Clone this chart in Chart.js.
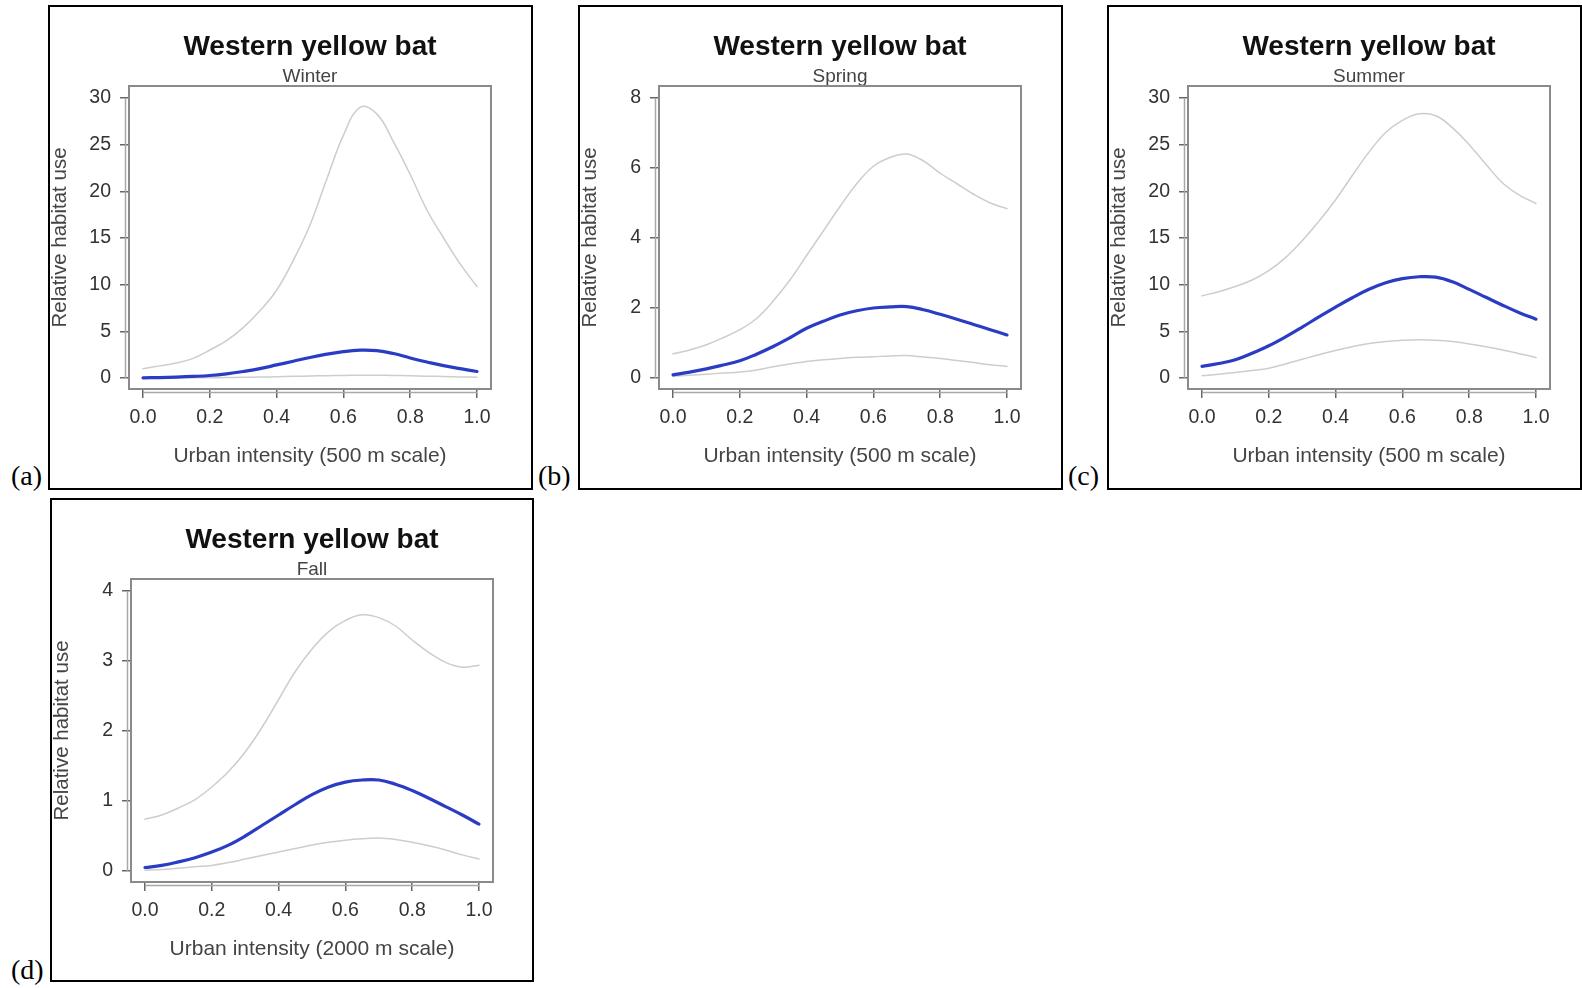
<!DOCTYPE html>
<html>
<head>
<meta charset="utf-8">
<title>Western yellow bat - relative habitat use</title>
<script src="https://cdn.jsdelivr.net/npm/chart.js@4.4.1/dist/chart.umd.min.js"></script>
<style>
  html, body { margin: 0; padding: 0; background: #fff; overflow: hidden; }
  body { width: 1582px; height: 988px; position: relative; }
  .frame { position: absolute; border: 2px solid #000; box-sizing: border-box; pointer-events: none; }
  canvas { position: absolute; }
  .tag { position: absolute; font-family: 'Liberation Serif', 'Times New Roman', serif; font-size: 28px; line-height: 28px; color: #000; }
</style>
</head>
<body>

<canvas id="chart-winter" width="483" height="482" style="left:49px;top:6px"></canvas>
<canvas id="chart-spring" width="483" height="482" style="left:579px;top:6px"></canvas>
<canvas id="chart-summer" width="483" height="482" style="left:1108px;top:6px"></canvas>
<canvas id="chart-fall" width="483" height="482" style="left:51px;top:499px"></canvas>

<div class="frame" style="left:48px;top:5px;width:485px;height:485px"></div>
<div class="frame" style="left:578px;top:5px;width:485px;height:485px"></div>
<div class="frame" style="left:1107px;top:5px;width:475px;height:485px"></div>
<div class="frame" style="left:50px;top:498px;width:484px;height:484px"></div>

<div class="tag" style="left:11px;top:462px">(a)</div>
<div class="tag" style="left:538px;top:462px">(b)</div>
<div class="tag" style="left:1068px;top:462px">(c)</div>
<div class="tag" style="left:11px;top:956px">(d)</div>

<script>
// x values shared by every curve
const urbanIntensity = [0, 0.05, 0.1, 0.15, 0.2, 0.25, 0.3, 0.35, 0.4, 0.45, 0.5,
                        0.55, 0.6, 0.65, 0.7, 0.75, 0.8, 0.85, 0.9, 0.95, 1.0];

// Winter (a)
const winterFit   = [0.02, 0.05, 0.1, 0.17, 0.27, 0.45, 0.7, 1.0, 1.4, 1.8, 2.2, 2.55, 2.83, 2.98, 2.93, 2.62, 2.15, 1.72, 1.32, 1.0, 0.7];
const winterUpper = [1.0, 1.3, 1.6, 2.1, 3.0, 4.0, 5.4, 7.2, 9.4, 12.6, 16.4, 21.3, 26.0, 29.0, 28.3, 25.3, 21.8, 18.0, 15.0, 12.2, 9.8];
const winterLower = [0.0, 0.0, 0.01, 0.02, 0.03, 0.05, 0.08, 0.1, 0.14, 0.18, 0.22, 0.25, 0.28, 0.3, 0.3, 0.28, 0.24, 0.2, 0.16, 0.12, 0.08];

// Spring (b)
const springFit   = [0.09, 0.17, 0.26, 0.37, 0.49, 0.68, 0.9, 1.15, 1.42, 1.62, 1.8, 1.92, 2.0, 2.03, 2.04, 1.95, 1.82, 1.68, 1.53, 1.38, 1.23];
const springUpper = [0.69, 0.8, 0.95, 1.15, 1.38, 1.7, 2.2, 2.8, 3.5, 4.2, 4.9, 5.55, 6.05, 6.3, 6.4, 6.2, 5.85, 5.55, 5.25, 5.0, 4.84];
const springLower = [0.05, 0.08, 0.11, 0.14, 0.17, 0.23, 0.32, 0.4, 0.47, 0.52, 0.56, 0.59, 0.61, 0.63, 0.64, 0.6, 0.56, 0.5, 0.44, 0.38, 0.33];

// Summer (c)
const summerFit   = [1.25, 1.55, 1.95, 2.65, 3.45, 4.4, 5.45, 6.55, 7.6, 8.6, 9.5, 10.2, 10.65, 10.85, 10.8, 10.3, 9.5, 8.65, 7.8, 7.0, 6.3];
const summerUpper = [8.8, 9.25, 9.8, 10.5, 11.5, 12.9, 14.7, 16.8, 19.1, 21.7, 24.2, 26.3, 27.6, 28.3, 28.1, 26.8, 25.0, 22.9, 20.9, 19.6, 18.7];
const summerLower = [0.25, 0.4, 0.6, 0.8, 1.05, 1.5, 2.0, 2.5, 2.95, 3.35, 3.7, 3.9, 4.05, 4.1, 4.05, 3.9, 3.65, 3.35, 3.0, 2.6, 2.2];

// Fall (d)
const fallFit   = [0.05, 0.08, 0.13, 0.19, 0.27, 0.37, 0.5, 0.65, 0.8, 0.95, 1.09, 1.2, 1.27, 1.3, 1.3, 1.24, 1.15, 1.04, 0.92, 0.8, 0.67];
const fallUpper = [0.74, 0.8, 0.9, 1.02, 1.2, 1.42, 1.7, 2.05, 2.45, 2.85, 3.17, 3.42, 3.58, 3.66, 3.62, 3.5, 3.3, 3.12, 2.98, 2.91, 2.94];
const fallLower = [0.01, 0.02, 0.04, 0.06, 0.08, 0.12, 0.17, 0.22, 0.27, 0.32, 0.37, 0.41, 0.44, 0.46, 0.47, 0.45, 0.41, 0.36, 0.3, 0.23, 0.17];

// tick labels
const xTicks      = [0, 0.2, 0.4, 0.6, 0.8, 1.0];
const winterTicks = [0, 5, 10, 15, 20, 25, 30];
const springTicks = [0, 2, 4, 6, 8];
const summerTicks = [0, 5, 10, 15, 20, 25, 30];
const fallTicks   = [0, 1, 2, 3, 4];

const speciesName = 'Western yellow bat';
const yAxisLabel = 'Relative habitat use';

const FONT = "'Liberation Sans', Arial, Helvetica, sans-serif";

// grey frame round the plot region, like R's box(), plus the axis lines
// R draws just outside it between the first and last tick
const plotBox = {
    id: 'plotBox',
    beforeDatasetsDraw(chart) {
        const { ctx, chartArea: a, scales } = chart;
        const xs = scales.x, ys = scales.y;
        ctx.save();
        ctx.strokeStyle = '#8a8a8a';
        ctx.lineWidth = 2;
        ctx.strokeRect(a.left, a.top, a.right - a.left, a.bottom - a.top);

        ctx.strokeStyle = '#a8a8a8';
        ctx.lineWidth = 1.5;
        ctx.beginPath();
        ctx.moveTo(xs.getPixelForValue(xTicks[0]), a.bottom + 3.5);
        ctx.lineTo(xs.getPixelForValue(xTicks[xTicks.length - 1]), a.bottom + 3.5);
        const yt = ys.ticks;
        ctx.moveTo(a.left - 3.5, ys.getPixelForValue(yt[0].value));
        ctx.lineTo(a.left - 3.5, ys.getPixelForValue(yt[yt.length - 1].value));
        ctx.stroke();
        ctx.restore();
    }
};

function makePanel(canvasId, season, xLabel, fit, upper, lower, yTicks) {
    const ctx = document.getElementById(canvasId).getContext('2d');
    const toPoints = arr => arr.map((v, i) => ({ x: urbanIntensity[i], y: v }));

    // R pads the axis range: top tick 12px under the box, zero 11px above it
    const top = yTicks[yTicks.length - 1];
    const perUnit = 280 / top;

    return new Chart(ctx, {
        type: 'line',
        data: {
            datasets: [
                { data: toPoints(fit), borderColor: '#2b3cc4', borderWidth: 3.2 },
                { data: toPoints(upper), borderColor: '#cdcdcd', borderWidth: 1.5 },
                { data: toPoints(lower), borderColor: '#cdcdcd', borderWidth: 1.5 }
            ]
        },
        options: {
            responsive: false,
            animation: false,
            events: [],
            layout: { padding: { top: 0, right: 41, bottom: 0, left: 0 } },
            elements: {
                point: { radius: 0 },
                line: { tension: 0.4, fill: false, borderCapStyle: 'round', borderJoinStyle: 'round' }
            },
            plugins: {
                legend: { display: false },
                tooltip: { enabled: false },
                title: {
                    display: true,
                    text: speciesName,
                    fullSize: false,
                    color: '#111',
                    font: { family: FONT, size: 28, weight: 'bold', lineHeight: 1.2 },
                    padding: { top: 24.6, bottom: 2.8 }
                },
                subtitle: {
                    display: true,
                    text: season,
                    fullSize: false,
                    color: '#444',
                    font: { family: FONT, size: 19, lineHeight: 1 },
                    padding: { top: 0, bottom: 0 }
                }
            },
            scales: {
                x: {
                    type: 'linear',
                    min: -14 / 334,
                    max: 1 + 14 / 334,
                    afterFit: s => { s.height = 99; },
                    afterBuildTicks: s => { s.ticks = xTicks.map(v => ({ value: v })); },
                    ticks: {
                        callback: v => v.toFixed(1),
                        color: '#333',
                        font: { family: FONT, size: 19.5 },
                        padding: 8,
                        maxRotation: 0,
                        autoSkip: false
                    },
                    grid: { drawOnChartArea: false, tickLength: 9, color: '#666', lineWidth: 1.5 },
                    border: { display: false },
                    title: {
                        display: true,
                        text: xLabel,
                        color: '#444',
                        font: { family: FONT, size: 21, lineHeight: 1.2 },
                        padding: { top: 0, bottom: 19 }
                    }
                },
                y: {
                    type: 'linear',
                    min: -11 / perUnit,
                    max: top + 12 / perUnit,
                    afterFit: s => { s.width = 80; },
                    afterBuildTicks: s => { s.ticks = yTicks.map(v => ({ value: v })); },
                    ticks: {
                        callback: v => String(v),
                        color: '#333',
                        font: { family: FONT, size: 19.5 },
                        padding: 9,
                        autoSkip: false
                    },
                    grid: { drawOnChartArea: false, tickLength: 9, color: '#666', lineWidth: 1.5 },
                    border: { display: false },
                    title: {
                        display: true,
                        text: yAxisLabel,
                        color: '#444',
                        font: { family: FONT, size: 20.5, lineHeight: 1 },
                        padding: { top: 1, bottom: 0 }
                    }
                }
            }
        },
        plugins: [plotBox]
    });
}

document.addEventListener('DOMContentLoaded', () => {
    makePanel('chart-winter', 'Winter', 'Urban intensity (500 m scale)', winterFit, winterUpper, winterLower, winterTicks);
    makePanel('chart-spring', 'Spring', 'Urban intensity (500 m scale)', springFit, springUpper, springLower, springTicks);
    makePanel('chart-summer', 'Summer', 'Urban intensity (500 m scale)', summerFit, summerUpper, summerLower, summerTicks);
    makePanel('chart-fall', 'Fall', 'Urban intensity (2000 m scale)', fallFit, fallUpper, fallLower, fallTicks);
});
</script>
</body>
</html>
